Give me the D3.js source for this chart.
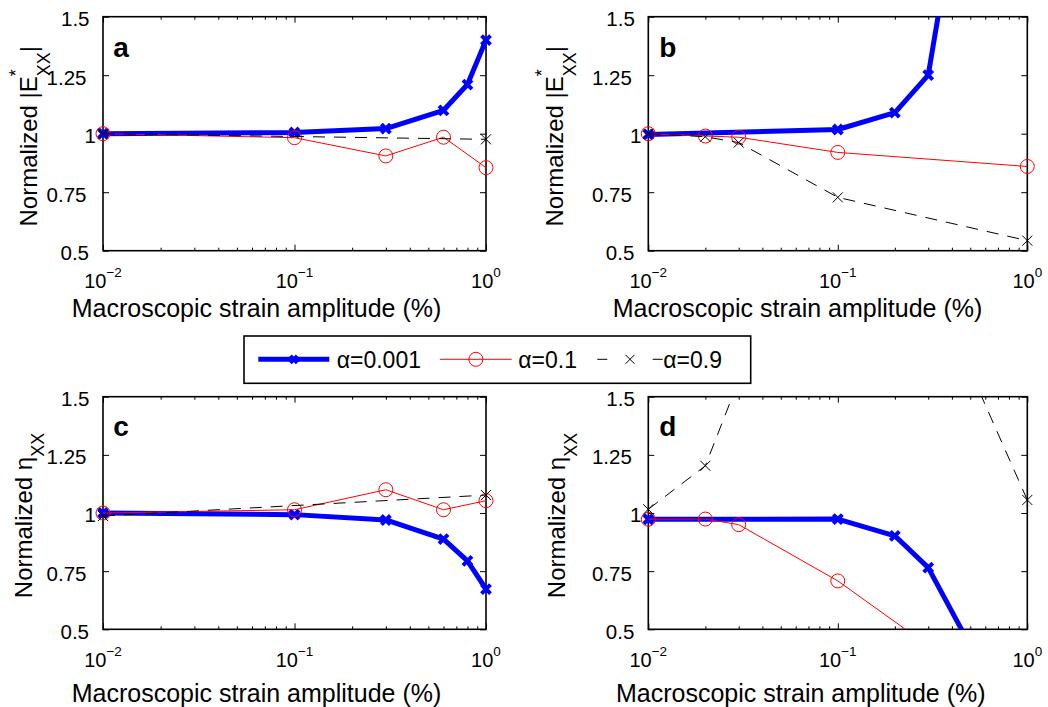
<!DOCTYPE html>
<html lang="en">
<head>
<meta charset="UTF-8" />
<title>Normalized |E*xx| and eta_xx vs strain amplitude</title>
<style>
  body { margin: 0; background: #fff; }
  svg { font-family: "Liberation Sans", Arial, sans-serif; }
</style>
</head>
<body>
<svg width="1048" height="707"></svg>
<script src="https://cdn.jsdelivr.net/npm/d3@7"></script>
<script>
// values (strain amplitude in %, normalized quantity)
// panel a : normalized |E*xx|, first material
const aBlueX = [0.01, 0.1, 0.3, 0.6, 0.8, 1];
const aBlueY = [1.0, 1.005, 1.022, 1.10, 1.21, 1.40];
const aRedX = [0.01, 0.1, 0.3, 0.6, 1];
const aRedY = [1.0, 0.983, 0.905, 0.985, 0.855];
const aBlackX = [0.01, 1];
const aBlackY = [1.0, 0.976];

// panel b : normalized |E*xx|, second material
const bBlueX = [0.01, 0.1, 0.2, 0.3, 0.6];
const bBlueY = [0.997, 1.018, 1.09, 1.25, 2.7];
const bRedX = [0.01, 0.02, 0.03, 0.1, 1];
const bRedY = [1.0, 0.99, 0.985, 0.92, 0.86];
const bBlackX = [0.01, 0.02, 0.03, 0.1, 1];
const bBlackY = [1.0, 0.987, 0.962, 0.728, 0.543];

// panel c : normalized eta_xx, first material
const cBlueX = [0.01, 0.1, 0.3, 0.6, 0.8, 1];
const cBlueY = [1.0, 0.993, 0.97, 0.888, 0.794, 0.673];
const cRedX = [0.01, 0.1, 0.3, 0.6, 1];
const cRedY = [1.0, 1.014, 1.10, 1.014, 1.053];
const cBlackX = [0.01, 1];
const cBlackY = [0.987, 1.077];

// panel d : normalized eta_xx, second material
const dBlueX = [0.01, 0.1, 0.2, 0.3, 0.6];
const dBlueY = [0.973, 0.974, 0.902, 0.765, 0.31];
const dRedX = [0.01, 0.02, 0.03, 0.1, 0.3];
const dRedY = [0.973, 0.974, 0.95, 0.708, 0.43];
const dBlackX = [0.01, 0.02, 0.03, 0.1, 1];
const dBlackY = [1.016, 1.203, 1.57, 2.9, 1.056];

const seriesNames = ["α=0.001", "α=0.1", "α=0.9"];
const panelLetters = ["a", "b", "c", "d"];
const xTickValues = [0.01, 0.1, 1];
const xTickExponents = ["−2", "−1", "0"];
const yTickValues = [0.5, 0.75, 1, 1.25, 1.5];
const yTickLabels = ["0.5", "0.75", "1", "1.25", "1.5"];
const xLabelText = "Macroscopic strain amplitude (%)";

// ---- layout / styles ----
const layout = [
  { left: 103,   top: 16.7,  w: 383, h: 234,   yLabX: 36.7,  xLabMid: 256.5, tickBase: 288.3, labBase: 317.3, ylab: "E" },
  { left: 648.3, top: 16.7,  w: 379, h: 234,   yLabX: 563.3, xLabMid: 797.5, tickBase: 288.3, labBase: 317.3, ylab: "E" },
  { left: 103,   top: 396.7, w: 383, h: 232.6, yLabX: 31.7,  xLabMid: 256.5, tickBase: 666.7, labBase: 701.7, ylab: "eta" },
  { left: 648.3, top: 396.7, w: 379, h: 232.6, yLabX: 565,   xLabMid: 800.8, tickBase: 666.7, labBase: 701.7, ylab: "eta" }
];
const yTickDx = [-14, -16.5, -7, -16.5, -13.5];

const styles = [
  { color: "#0000ff", width: 5, dash: null, marker: "boldx" },
  { color: "#ff0000", width: 1, dash: null, marker: "circle" },
  { color: "#000000", width: 1, dash: "12,9", marker: "x" }
];

const panelData = [
  [d3.zip(aBlueX, aBlueY), d3.zip(aRedX, aRedY), d3.zip(aBlackX, aBlackY)],
  [d3.zip(bBlueX, bBlueY), d3.zip(bRedX, bRedY), d3.zip(bBlackX, bBlackY)],
  [d3.zip(cBlueX, cBlueY), d3.zip(cRedX, cRedY), d3.zip(cBlackX, cBlackY)],
  [d3.zip(dBlueX, dBlueY), d3.zip(dRedX, dRedY), d3.zip(dBlackX, dBlackY)]
];

const svg = d3.select("svg");

function drawMarker(sel, type, cx, cy, size) {
  if (type === "circle") {
    sel.append("circle").attr("cx", cx).attr("cy", cy).attr("r", size)
      .attr("fill", "none").attr("stroke", "#ff0000").attr("stroke-width", 1);
  } else {
    const s = size;
    sel.append("path")
      .attr("d", `M${cx - s},${cy - s}L${cx + s},${cy + s}M${cx - s},${cy + s}L${cx + s},${cy - s}`)
      .attr("fill", "none")
      .attr("stroke", type === "boldx" ? "#0000ff" : "#000")
      .attr("stroke-width", type === "boldx" ? 4 : 1);
  }
}
const markerSize = { boldx: 4.5, circle: 7, x: 5 };

layout.forEach((L, pi) => {
  const x = d3.scaleLog().domain([0.01, 1]).range([0, L.w]);
  const y = d3.scaleLinear().domain([0.5, 1.5]).range([L.h, 0]);

  const g = svg.append("g").attr("transform", `translate(${L.left},${L.top})`);

  g.append("clipPath").attr("id", "clip" + pi)
    .append("rect").attr("width", L.w).attr("height", L.h);

  // ticks, pointing inward on all four sides
  const minor = x.ticks().filter(v => !xTickValues.some(t => Math.abs(t - v) < 1e-9));
  const tickAxes = [
    [d3.axisBottom(x).tickValues(xTickValues).tickSize(-6), `translate(0,${L.h})`],
    [d3.axisBottom(x).tickValues(minor).tickSize(-3), `translate(0,${L.h})`],
    [d3.axisTop(x).tickValues(xTickValues).tickSize(-6), null],
    [d3.axisTop(x).tickValues(minor).tickSize(-3), null],
    [d3.axisLeft(y).tickValues(yTickValues).tickSize(-6), null],
    [d3.axisRight(y).tickValues(yTickValues).tickSize(-6), `translate(${L.w},0)`]
  ];
  tickAxes.forEach(([ax, tr]) => {
    const a = g.append("g").call(ax.tickFormat(""));
    if (tr) a.attr("transform", tr);
    a.select(".domain").remove();
    a.selectAll("line").attr("stroke", "#000").attr("stroke-width", 1);
  });

  g.append("rect").attr("width", L.w).attr("height", L.h)
    .attr("fill", "none").attr("stroke", "#000").attr("stroke-width", 1.6);

  // y tick labels
  yTickValues.forEach((v, i) => {
    g.append("text")
      .attr("x", yTickDx[i]).attr("y", y(v) + 9.5)
      .attr("text-anchor", "end").attr("font-size", 20.5)
      .text(yTickLabels[i]);
  });

  // x tick labels 10^n
  xTickValues.forEach((v, i) => {
    const t = g.append("text")
      .attr("x", x(v)).attr("y", L.tickBase - L.top)
      .attr("text-anchor", "middle").attr("font-size", 20);
    t.append("tspan").text("10");
    t.append("tspan").attr("font-size", 13.5).attr("dy", -11).text(xTickExponents[i]);
  });

  // data
  const line = d3.line().x(d => x(d[0])).y(d => y(d[1]));
  panelData[pi].forEach((pts, si) => {
    const st = styles[si];
    g.append("path").datum(pts)
      .attr("clip-path", `url(#clip${pi})`)
      .attr("d", line)
      .attr("fill", "none")
      .attr("stroke", st.color)
      .attr("stroke-width", st.width)
      .attr("stroke-linejoin", "round")
      .attr("stroke-dasharray", st.dash);
    const mg = g.append("g");
    pts.filter(d => d[1] >= 0.5 && d[1] <= 1.5)
      .forEach(d => drawMarker(mg, st.marker, x(d[0]), y(d[1]), markerSize[st.marker]));
  });

  // panel letter
  g.append("text").attr("x", pi % 2 ? 11 : 10.3).attr("y", pi < 2 ? 40 : 39.3)
    .attr("font-size", 28).attr("font-weight", "bold").text(panelLetters[pi]);

  // x label
  svg.append("text").attr("x", L.xLabMid).attr("y", L.labBase)
    .attr("text-anchor", "middle").attr("font-size", 25).text(xLabelText);

  // y label
  const cy = L.top + L.h / 2 + 2.5;
  const yl = svg.append("text")
    .attr("transform", `translate(${L.yLabX},${cy}) rotate(-90)`)
    .attr("text-anchor", "middle").attr("font-size", 24);
  if (L.ylab === "E") {
    yl.append("tspan").text("Normalized |E");
    yl.append("tspan").attr("font-size", 18).attr("dy", -15).text("*");
    yl.append("tspan").attr("font-size", 18).attr("dx", -7).attr("dy", 28).text("XX");
    yl.append("tspan").attr("dy", -13).text("|");
  } else {
    yl.append("tspan").text("Normalized η");
    yl.append("tspan").attr("font-size", 18).attr("dy", 12).text("XX");
  }
});

// legend
const lg = svg.append("g");
lg.append("rect").attr("x", 244).attr("y", 336).attr("width", 506.7).attr("height", 47.3)
  .attr("fill", "#fff").attr("stroke", "#000").attr("stroke-width", 1.6);
const legendItems = [
  { x0: 258.3, x1: 329.3, tx: 336.7, dash: null, msize: 3.5 },
  { x0: 440, x1: 511.7, tx: 518.3, dash: null, msize: 7 },
  { x0: 597.3, x1: 662.7, tx: 663.3, dash: "10,45.4", msize: 4.5 }
];
const ly = 359.3;
legendItems.forEach((it, i) => {
  const st = styles[i];
  lg.append("line").attr("x1", it.x0).attr("x2", it.x1).attr("y1", ly).attr("y2", ly)
    .attr("stroke", st.color).attr("stroke-width", st.width)
    .attr("stroke-dasharray", it.dash);
  drawMarker(lg, st.marker, (it.x0 + it.x1) / 2, ly, it.msize);
  lg.append("text").attr("x", it.tx).attr("y", 368.3).attr("font-size", 23).text(seriesNames[i]);
});
</script>
</body>
</html>
